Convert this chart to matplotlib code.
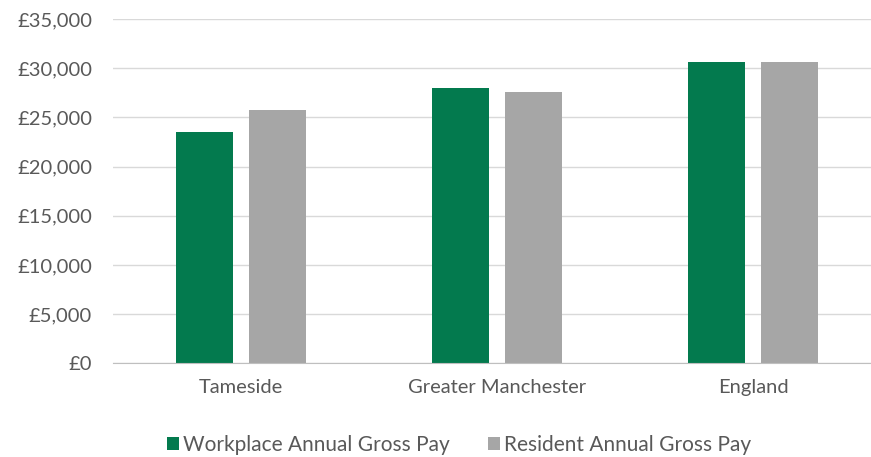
import matplotlib
matplotlib.use("Agg")
import matplotlib.pyplot as plt
from matplotlib.ticker import FuncFormatter
import numpy as np

categories = ["Tameside", "Greater Manchester", "England"]
series_names = ["Workplace Annual Gross Pay", "Resident Annual Gross Pay"]
workplace = [23480, 27950, 30650]
resident = [25750, 27600, 30650]
y_ticks = [0, 5000, 10000, 15000, 20000, 25000, 30000, 35000]

green = "#037A4E"
grey = "#A6A6A6"
text_col = "#595959"

plt.rcParams['font.family'] = ['Lato', 'DejaVu Sans']

W, H = 871, 457
fig = plt.figure(figsize=(W/100, H/100), dpi=100)
left_px, right_px, top_px, bot_px = 113, 871, 19, 363.3
ax = fig.add_axes([left_px/W, (H-bot_px)/H, (right_px-left_px)/W, (bot_px-top_px)/H])

x = np.arange(len(categories))
w = 0.2227
off = 0.142
ax.bar(x - off, workplace, width=w, color=green, label=series_names[0], zorder=3)
ax.bar(x + off, resident, width=w, color=grey, label=series_names[1], zorder=3)

ax.set_xlim(-0.5, -0.5 + (right_px-left_px)/256.0)
ax.set_ylim(0, 35000)
ax.set_yticks(y_ticks)
ax.yaxis.set_major_formatter(FuncFormatter(lambda v, p: f"£{int(v):,}"))
ax.grid(axis='y', color="#D9D9D9", linewidth=1, zorder=0)
for s in ["top", "right", "left"]:
    ax.spines[s].set_visible(False)
ax.spines["bottom"].set_color("#BFBFBF")
ax.spines["bottom"].set_zorder(4)
ax.tick_params(axis='both', length=0, colors=text_col, labelsize=14.5)
ax.tick_params(axis='y', pad=15)
ax.tick_params(axis='x', pad=11)
ax.set_xticks(x)
ax.set_xticklabels(categories)

leg = fig.legend(loc='center', bbox_to_anchor=(459/W, 1 - 445/H), ncol=2,
                 frameon=False, fontsize=15, handlelength=0.6, handleheight=0.6,
                 handletextpad=0.2, columnspacing=1.8)
for t in leg.get_texts():
    t.set_color(text_col)

fig.savefig("out.png", dpi=100)
